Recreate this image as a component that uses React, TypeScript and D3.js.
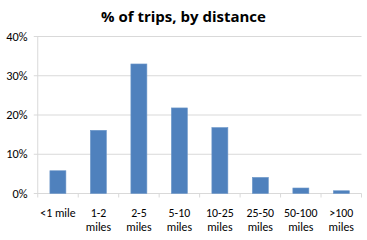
import React from "react";
import * as d3 from "d3";

const categories = ["<1 mile", "1-2|miles", "2-5|miles", "5-10|miles", "10-25|miles", "25-50|miles", "50-100|miles", ">100|miles"];
const values = [5.8, 16.1, 33.0, 21.8, 16.8, 4.1, 1.4, 0.7];
const yTicks = [0, 10, 20, 30, 40];
const title = "% of trips, by distance";

export default function App() {
  const W = 367, H = 240;
  const left = 37.75, right = 361.5, top = 36.5, bottom = 193.5;
  const x = d3.scaleBand<string>().domain(categories).range([left, right]).paddingInner(0.605).paddingOuter(0.3);
  const band = (right - left) / categories.length;
  const y = d3.scaleLinear().domain([0, 40]).range([bottom, top]);
  const font = "Carlito, Calibri, 'Liberation Sans', 'Open Sans', sans-serif";
  return (
    <svg width={W} height={H} style={{ position: "absolute", left: 0, top: 0, background: "#fff" }} fontFamily={font}>
      <text x={183.5} y={22} textAnchor="middle" fontSize={15} fontWeight="bold" fill="#000" fontFamily="'Open Sans', sans-serif">{title}</text>
      {yTicks.map(t => (
        <g key={t}>
          <line x1={left - 4} x2={right} y1={y(t)} y2={y(t)} stroke="#d9d9d9" strokeWidth={1} />
          <text x={27.5} y={y(t) + 4.2} textAnchor="end" fontSize={12.3} fill="#000">{t + "%"}</text>
        </g>
      ))}
      <line x1={left} x2={left} y1={top} y2={bottom + 4} stroke="#d9d9d9" />
      {categories.map((c, i) => (
        <line key={"t" + i} x1={left + band * (i + 1)} x2={left + band * (i + 1)} y1={bottom} y2={bottom + 4} stroke="#d9d9d9" />
      ))}
      {categories.map((c, i) => (
        <rect key={c} x={x(c)} y={y(values[i])} width={x.bandwidth()} height={bottom - y(values[i])} fill="#4f81bd" stroke="#6d97c9" strokeWidth={0.6} />
      ))}
      {categories.map((c, i) => {
        const lines = c.split("|");
        const cx = left + band * (i + 0.5);
        return (
          <text key={"l" + i} x={cx} textAnchor="middle" fontSize={11.8} fill="#000">
            {lines.map((l, j) => <tspan key={j} x={cx} y={217 + j * 13.5}>{l}</tspan>)}
          </text>
        );
      })}
    </svg>
  );
}
